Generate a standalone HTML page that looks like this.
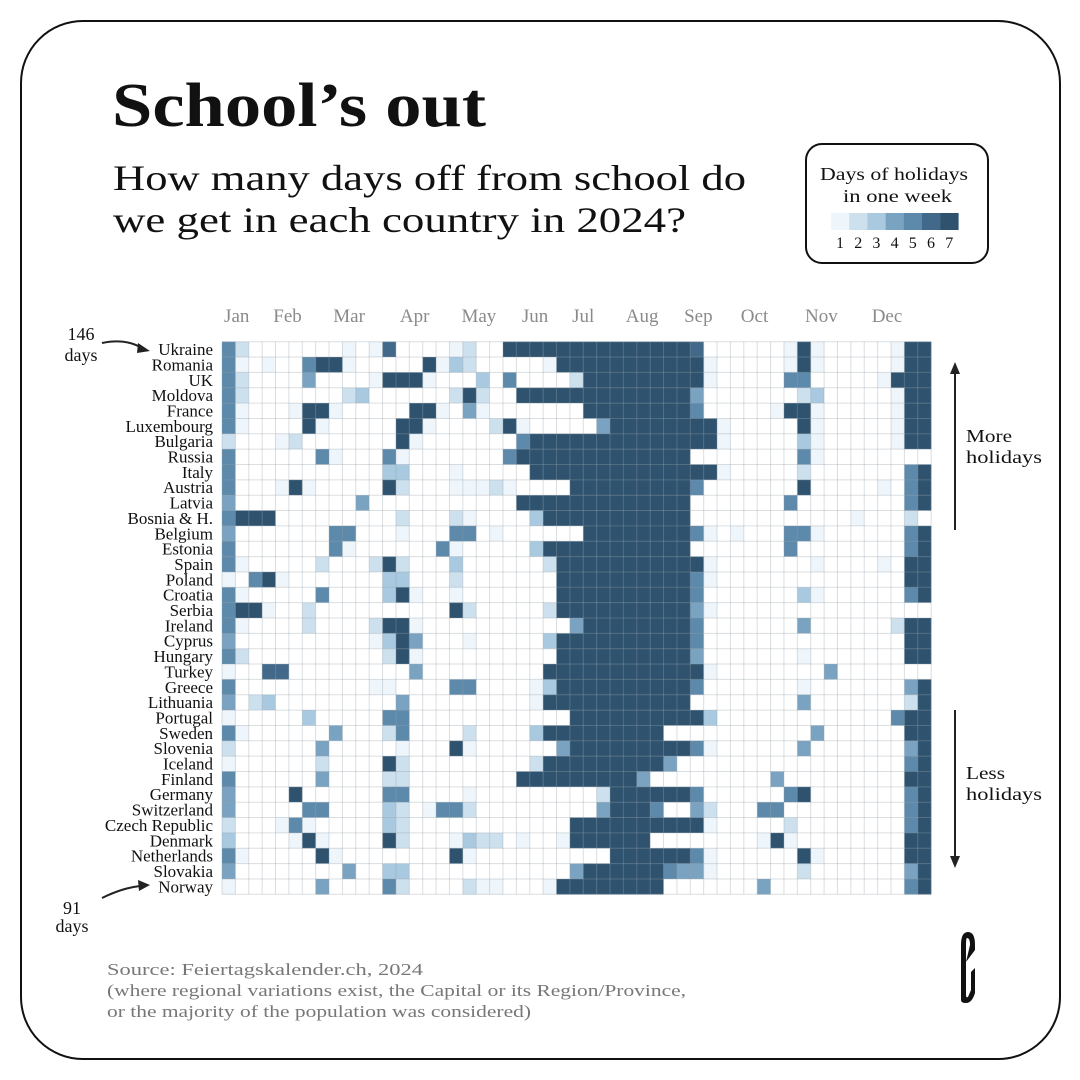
<!DOCTYPE html>
<html><head><meta charset="utf-8">
<style>
html,body{margin:0;padding:0;background:#fff;}
body{width:1080px;height:1080px;position:relative;overflow:hidden;font-family:"Liberation Serif",serif;}
</style></head>
<body>
<svg width="1080" height="1080" viewBox="0 0 1080 1080" style="position:absolute;left:0;top:0">
<rect x="21" y="21" width="1039" height="1038" rx="62" ry="62" fill="#fff" stroke="#111" stroke-width="2"/>
<text x="112" y="126" font-family="Liberation Serif, serif" font-weight="bold" font-size="62" fill="#111" textLength="374" lengthAdjust="spacingAndGlyphs">School’s out</text>
<text x="113" y="190" font-family="Liberation Serif, serif" font-size="36" fill="#111" textLength="633" lengthAdjust="spacingAndGlyphs">How many days off from school do</text>
<text x="113" y="232" font-family="Liberation Serif, serif" font-size="36" fill="#111" textLength="573" lengthAdjust="spacingAndGlyphs">we get in each country in 2024?</text>
<g>
<rect x="806" y="144" width="182" height="119" rx="16" ry="16" fill="#fff" stroke="#111" stroke-width="2"/>
<text x="820" y="180" font-size="18" fill="#111" textLength="148" lengthAdjust="spacingAndGlyphs">Days of holidays</text>
<text x="843" y="202" font-size="18" fill="#111" textLength="109" lengthAdjust="spacingAndGlyphs">in one week</text>
<g id="legend-swatches"></g>
</g>
<g id="months"></g>
<g id="labels"></g>
<g id="cells"></g>
<g id="gridlines"></g>
<g fill="none" stroke="#222" stroke-width="2">
<line x1="955" y1="372" x2="955" y2="530"/>
<polygon points="955,362 950,374 960,374" fill="#222" stroke="none"/>
<line x1="955" y1="710" x2="955" y2="858"/>
<polygon points="955,868 950,856 960,856" fill="#222" stroke="none"/>
<path d="M102 343 Q125 338 142 348"/>
<polygon points="150,351 138,343 137,353" fill="#222" stroke="none"/>
<path d="M102 898 Q122 888 140 886"/>
<polygon points="150,885 138,880 139,891" fill="#222" stroke="none"/>
</g>
<text x="966" y="442" font-size="18" fill="#111" textLength="46" lengthAdjust="spacingAndGlyphs">More</text>
<text x="966" y="463" font-size="18" fill="#111" textLength="76" lengthAdjust="spacingAndGlyphs">holidays</text>
<text x="966" y="779" font-size="18" fill="#111" textLength="39" lengthAdjust="spacingAndGlyphs">Less</text>
<text x="966" y="800" font-size="18" fill="#111" textLength="76" lengthAdjust="spacingAndGlyphs">holidays</text>
<text x="81" y="340" text-anchor="middle" font-size="18" fill="#111">146</text>
<text x="81" y="361" text-anchor="middle" font-size="18" fill="#111">days</text>
<text x="72" y="914" text-anchor="middle" font-size="18" fill="#111">91</text>
<text x="72" y="932" text-anchor="middle" font-size="18" fill="#111">days</text>
<text x="107" y="975" font-size="17" fill="#777" textLength="316" lengthAdjust="spacingAndGlyphs">Source: Feiertagskalender.ch, 2024</text>
<text x="107" y="996" font-size="17" fill="#777" textLength="579" lengthAdjust="spacingAndGlyphs">(where regional variations exist, the Capital or its Region/Province,</text>
<text x="107" y="1017" font-size="17" fill="#777" textLength="424" lengthAdjust="spacingAndGlyphs">or the majority of the population was considered)</text>
<path d="M961 1000 L961 945 Q961 932 968 932 Q975 932 975 945 L975 950 L966 962 L970 945 Q970 938 967 938 Q966 938 966 945 L966 995 Q966 998 968 997 L971 990 L971 972 L975 968 L975 993 Q972 1003 966 1003 Q961 1003 961 1000 Z" fill="#111"/>
</svg>
<script>
const countries=["Ukraine","Romania","UK","Moldova","France","Luxembourg","Bulgaria","Russia","Italy","Austria","Latvia","Bosnia & H.","Belgium","Estonia","Spain","Poland","Croatia","Serbia","Ireland","Cyprus","Hungary","Turkey","Greece","Lithuania","Portugal","Sweden","Slovenia","Iceland","Finland","Germany","Switzerland","Czech Republic","Denmark","Netherlands","Slovakia","Norway"];
const months=["Jan","Feb","Mar","Apr","May","Jun","Jul","Aug","Sep","Oct","Nov","Dec"];
const monthWeek=[1.1,4.9,9.5,14.4,19.2,23.4,27,31.4,35.6,39.8,44.8,49.7];
const legendValues=[1,2,3,4,5,6,7];
const weeklyDays=[
"52000000010160000120077777"+"777777777600000017100000177",
"51010057710000071320000017"+"777777777710000017100000177",
"52000040000177710003050000"+"277777777710000055000001777",
"52000000023000000272007777"+"777777777400000002300000177",
"51000177100000771041000000"+"077777777500000177100000177",
"51000071000007710000271000"+"004777777771000007100000177",
"20001200000007100000005777"+"777777777771000003100000177",
"50000005100051000000057777"+"777777777000000005100000000",
"50000000000033000100000777"+"777777777771000002000000057",
"50001710000072000111210000"+"777777777500000007000001057",
"40000000004000000000007777"+"777777777000000050000000057",
"57770000000002000210000377"+"777777777000000000000100020",
"40000000550001000550100000"+"077777777510100055100000057",
"50000000510000005100000377"+"777777777000000050000000057",
"51000002000272000300000027"+"777777777710000000100001077",
"10571000000033000200000007"+"777777777510000000000000077",
"51000005000037100100000007"+"777777777500000003100000057",
"57710020000000000720000027"+"777777777410000000000000000",
"51000020000277100000000000"+"477777777500000004000000277",
"40000000000137400010000037"+"777777777500000000000000077",
"52000000000027100000000007"+"777777777400000001000000077",
"10066000000000400000000077"+"777777777710000000040000000",
"50000000000110000550000137"+"777777777500000001000000047",
"40230000000004000000000177"+"777777777000000004000000027",
"10000030000055000000000000"+"777777777730000000000000577",
"51000000400025000020000377"+"777777700000000000400000077",
"20000004000001000710000004"+"777777777510000004000000047",
"10000002000072000000000277"+"777777740000000000000000057",
"50000004000022000000007777"+"777774000000000400000000077",
"40000700000055000010000000"+"002777777500000057000000057",
"40000055000032015520000000"+"004777500420005500000000057",
"20001510000032000000000000"+"777777777710000020000000057",
"30000171000072000132201001"+"777777000000001710000000077",
"51000007100000000710000000"+"000777777510000007100000077",
"40000000040033000000000000"+"477777754410000002000000047",
"10000004000052000021100017"+"777777700000004000000000057"
];
const palette=["#ffffff","#eef5fb","#cde0ee","#a8c9df","#7aa3c1","#5d89ab","#43698a","#2f536f"];
const X0=222,CW=13.38,Y0=341.7,RH=15.35,NW=53;
const xScale=w=>X0+w*CW;
const yScale=r=>Y0+r*RH;
const NS="http://www.w3.org/2000/svg";
function mk(t,a){const e=document.createElementNS(NS,t);for(const k in a)e.setAttribute(k,a[k]);return e;}
const cells=document.getElementById('cells');
weeklyDays.forEach((row,r)=>{
  for(let w=0;w<NW;w++){
    const v=+row[w];
    const rc=mk('rect',{x:xScale(w),y:yScale(r),width:CW+0.2,height:RH+0.2,fill:palette[v]});
    
    
    cells.appendChild(rc);
  }
});
const grid=document.getElementById('gridlines');
for(let w=0;w<=NW;w++){
  const l=mk('line',{x1:xScale(w),x2:xScale(w),y1:yScale(0),y2:yScale(countries.length),stroke:'rgba(150,160,170,0.35)','stroke-width':1});
  
  
  grid.appendChild(l);
}
for(let r=0;r<=countries.length;r++){
  const l=mk('line',{x1:xScale(0),x2:xScale(NW),y1:yScale(r),y2:yScale(r),stroke:'rgba(150,160,170,0.35)','stroke-width':1});
  
  
  grid.appendChild(l);
}
const labels=document.getElementById('labels');
countries.forEach((c,r)=>{
  const t=mk('text',{x:213,y:yScale(r)+RH-2,'text-anchor':'end','font-size':17,fill:'#111','font-family':'Liberation Serif, serif'});
  t.textContent=c;
  
  
  labels.appendChild(t);
});
const mg=document.getElementById('months');
months.forEach((m,i)=>{
  const t=mk('text',{x:xScale(monthWeek[i]),y:322,'text-anchor':'middle','font-size':19,fill:'#8a8a8a','font-family':'Liberation Serif, serif'});
  t.textContent=m;
  
  
  mg.appendChild(t);
});
const lg=document.getElementById('legend-swatches');
legendValues.forEach((v,i)=>{
  const rc=mk('rect',{x:831+i*18.2,y:213,width:18.4,height:17,fill:palette[v]});
  
  
  lg.appendChild(rc);
  const t=mk('text',{x:840+i*18.2,y:248,'text-anchor':'middle','font-size':16,fill:'#111','font-family':'Liberation Serif, serif'});
  t.textContent=v;
  
  
  lg.appendChild(t);
});
</script>
</body></html>
